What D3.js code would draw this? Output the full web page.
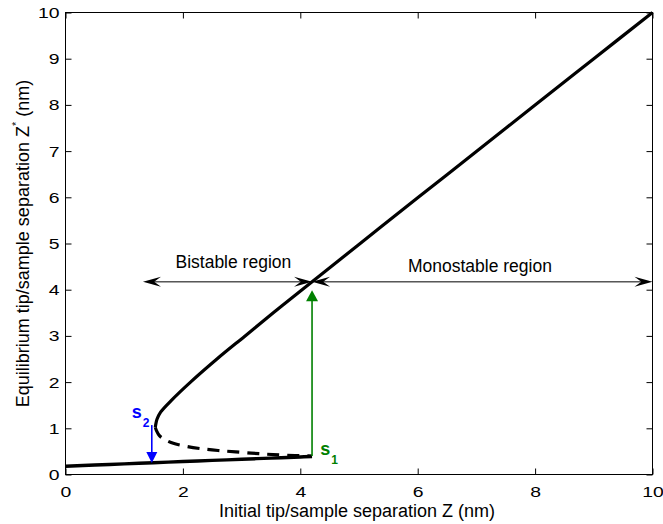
<!DOCTYPE html>
<html>
<head>
<meta charset="utf-8">
<script src="https://cdn.jsdelivr.net/npm/d3@7"></script>
<style>
  html, body { margin: 0; padding: 0; background: #fff; }
  svg { display: block; font-family: "Liberation Sans", Arial, Helvetica, sans-serif; }
  .tick text { transform-box: fill-box; }
</style>
</head>
<body>
<svg id="chart" width="663" height="524"></svg>
<script>
// Equilibrium separation Z* versus initial separation Z (both nm)

// lower stable branch (tip in contact)
const lowerZ  = [0, 0.5, 1, 1.5, 2, 2.5, 3, 3.5, 4, 4.2];
const lowerZs = [0.18, 0.205, 0.23, 0.255, 0.28, 0.305, 0.33, 0.355, 0.38, 0.39];

// unstable branch (dashed)
const unstableZ  = [1.53, 1.55, 1.6, 1.7, 1.85, 2.05, 2.3, 2.6, 2.9, 3.3, 3.7, 4.2];
const unstableZs = [1.02, 0.95, 0.84, 0.75, 0.67, 0.61, 0.56, 0.52, 0.49, 0.45, 0.42, 0.40];

// upper stable branch
const upperZ  = [1.53, 1.54, 1.56, 1.62, 1.8, 2.13, 2.58, 3.06, 3.54, 4.03, 5.02, 6.01, 7.01, 8.0, 9.0, 10.0];
const upperZs = [1.02, 1.1, 1.2, 1.35, 1.6, 2.0, 2.5, 3.0, 3.5, 4.0, 5.0, 6.0, 7.0, 8.0, 9.0, 10.0];

// jumps: s1 snaps up, s2 snaps down
const jumpS1 = { z: 4.2, from: 0.40, to: 3.99 };
const jumpS2 = { z: 1.47, from: 1.07, to: 0.25 };

// region annotations
const regionY = 4.17;
const bistable   = { from: 1.32, to: 4.2, label: "Bistable region",   tx: 2.86, ty: 4.48 };
const monostable = { from: 4.2,  to: 10,  label: "Monostable region", tx: 7.06, ty: 4.39 };

const xTicks = [0, 2, 4, 6, 8, 10];
const yTicks = [0, 1, 2, 3, 4, 5, 6, 7, 8, 9, 10];

const xLabel = "Initial tip/sample separation Z (nm)";
const yLabelMain = "Equilibrium tip/sample separation Z";
const yLabelTail = " (nm)";

const svg = d3.select("#chart");

const x = d3.scaleLinear().domain([0, 10]).range([65.5, 652.5]);
const y = d3.scaleLinear().domain([0, 10]).range([474.5, 12.5]);

const green = "#008000";
const blue = "#0000ff";

// axes with inward ticks
function styleTicks(g, anchorOrigin) {
  g.select(".domain").remove();
  g.selectAll(".tick line").attr("stroke", "#000").attr("stroke-width", 1);
  g.selectAll(".tick text")
    .attr("fill", "#000")
    .style("font-size", "15.5px")
    .style("transform-origin", anchorOrigin)
    .style("transform", "scaleX(1.25)");
}

svg.append("g")
  .attr("transform", `translate(0,${y(0)})`)
  .call(d3.axisBottom(x).tickValues(xTicks).tickSizeInner(-6).tickSizeOuter(0).tickPadding(12))
  .call(g => styleTicks(g, "center"));

svg.append("g")
  .attr("transform", `translate(${x(0)},0)`)
  .call(d3.axisLeft(y).tickValues(yTicks).tickSizeInner(-6).tickSizeOuter(0).tickPadding(6))
  .call(g => styleTicks(g, "right center"));

svg.append("g")
  .attr("transform", `translate(0,${y(10)})`)
  .call(d3.axisTop(x).tickValues(xTicks).tickSizeInner(-6).tickSizeOuter(0).tickFormat(""))
  .call(g => styleTicks(g, "center"));

svg.append("g")
  .attr("transform", `translate(${x(10)},0)`)
  .call(d3.axisRight(y).tickValues(yTicks).tickSizeInner(-6).tickSizeOuter(0).tickFormat(""))
  .call(g => styleTicks(g, "center"));

// frame
svg.append("rect")
  .attr("x", x(0)).attr("y", y(10))
  .attr("width", x(10) - x(0)).attr("height", y(0) - y(10))
  .attr("fill", "none").attr("stroke", "#000").attr("stroke-width", 1);

// curves
const line = d3.line().x(d => x(d[0])).y(d => y(d[1])).curve(d3.curveCatmullRom.alpha(0.5));
const zip = (a, b) => a.map((v, i) => [v, b[i]]);

svg.append("path").datum(zip(lowerZ, lowerZs)).attr("d", line)
  .attr("fill", "none").attr("stroke", "#000").attr("stroke-width", 3.4);

svg.append("path").datum(zip(unstableZ, unstableZs)).attr("d", line)
  .attr("fill", "none").attr("stroke", "#000").attr("stroke-width", 3.2)
  .attr("stroke-dasharray", "12,8");

svg.append("path").datum(zip(upperZ, upperZs)).attr("d", line)
  .attr("fill", "none").attr("stroke", "#000").attr("stroke-width", 3.2);

// arrowheads
function plainHead(px, py, dirX, dirY, len, halfW, color) {
  const nx = -dirY, ny = dirX;
  const bx = px - dirX * len, by = py - dirY * len;
  svg.append("path")
    .attr("d", `M${px},${py}L${bx + nx * halfW},${by + ny * halfW}L${bx - nx * halfW},${by - ny * halfW}Z`)
    .attr("fill", color).attr("stroke", "none");
}
function notchedHead(px, py, dirX, dirY, len, halfW, color) {
  const nx = -dirY, ny = dirX;
  const bx = px - dirX * len, by = py - dirY * len;
  const mx = px - dirX * len * 0.62, my = py - dirY * len * 0.62;
  svg.append("path")
    .attr("d", `M${px},${py}L${bx + nx * halfW},${by + ny * halfW}L${mx},${my}L${bx - nx * halfW},${by - ny * halfW}Z`)
    .attr("fill", color).attr("stroke", "none");
}

// s1 jump (green)
svg.append("line")
  .attr("x1", x(jumpS1.z)).attr("x2", x(jumpS1.z))
  .attr("y1", y(jumpS1.from)).attr("y2", y(jumpS1.to) + 8)
  .attr("stroke", green).attr("stroke-width", 1.6);
plainHead(x(jumpS1.z), y(jumpS1.to), 0, -1, 11, 6, green);

// s2 jump (blue)
svg.append("line")
  .attr("x1", x(jumpS2.z)).attr("x2", x(jumpS2.z))
  .attr("y1", y(jumpS2.from)).attr("y2", y(jumpS2.to) - 8)
  .attr("stroke", blue).attr("stroke-width", 1.6);
plainHead(x(jumpS2.z), y(jumpS2.to), 0, 1, 11, 5.5, blue);

// region double arrows
[bistable, monostable].forEach(r => {
  svg.append("line")
    .attr("x1", x(r.from) + 6).attr("x2", x(r.to) - 6)
    .attr("y1", y(regionY)).attr("y2", y(regionY))
    .attr("stroke", "#000").attr("stroke-width", 1);
  notchedHead(x(r.from), y(regionY), -1, 0, 18, 5, "#000");
  notchedHead(x(r.to), y(regionY), 1, 0, 18, 5, "#000");
  svg.append("text")
    .attr("x", x(r.tx)).attr("y", y(r.ty))
    .attr("text-anchor", "middle")
    .style("font-size", "17.5px")
    .attr("fill", "#000")
    .text(r.label);
});

// point labels
function subLabel(zx, zy, sub, color) {
  const t = svg.append("text")
    .attr("x", x(zx)).attr("y", y(zy))
    .attr("fill", color).style("font-weight", "bold").style("font-size", "18px");
  t.append("tspan").text("s");
  t.append("tspan").attr("dy", 9).attr("dx", 1).style("font-size", "12px").text(sub);
}
subLabel(1.13, 1.22, "2", blue);
subLabel(4.34, 0.42, "1", green);

// axis titles
svg.append("text")
  .attr("x", (x(0) + x(10)) / 2 - 2).attr("y", 516.5)
  .attr("text-anchor", "middle").style("font-size", "18px").attr("fill", "#000")
  .text(xLabel);

const yt = svg.append("text")
  .attr("transform", `translate(29,${(y(0) + y(10)) / 2 + 0}) rotate(-90)`)
  .attr("text-anchor", "middle").style("font-size", "18px").attr("fill", "#000");
yt.append("tspan").text(yLabelMain);
yt.append("tspan").attr("dy", -9).style("font-size", "11px").text("*");
yt.append("tspan").attr("dy", 9).text(yLabelTail);
</script>
</body>
</html>
